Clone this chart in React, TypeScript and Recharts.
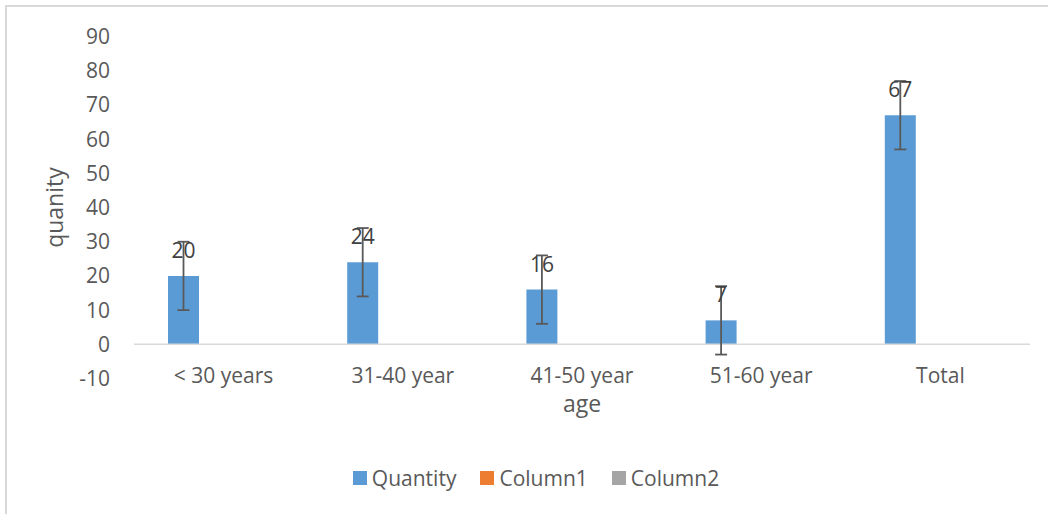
import React from 'react';
import { BarChart, Bar, XAxis, YAxis, ErrorBar, LabelList, Legend, ReferenceLine } from 'recharts';

const categories = ['< 30 years', '31-40 year', '41-50 year', '51-60 year', 'Total'];
const quantity = [20, 24, 16, 7, 67];
const quantityError = [10, 10, 10, 10, 10];
const column1: (number | null)[] = [null, null, null, null, null];
const column2: (number | null)[] = [null, null, null, null, null];
const yTicks = [-10, 0, 10, 20, 30, 40, 50, 60, 70, 80, 90];
const seriesNames = ['Quantity', 'Column1', 'Column2'];

const data = categories.map((age, i) => ({
  age,
  Quantity: quantity[i],
  err: quantityError[i],
  Column1: column1[i],
  Column2: column2[i],
}));

const TEXT = '#595959';

const LegendContent = (props: any) => {
  const items = [...(props.payload || [])].sort(
    (a: any, b: any) => seriesNames.indexOf(a.value) - seriesNames.indexOf(b.value)
  );
  return (
    <div
      style={{
        display: 'flex',
        justifyContent: 'center',
        alignItems: 'center',
        height: 30,
        paddingLeft: 24,
        boxSizing: 'border-box',
        width: '100%',
      }}
    >
      {items.map((it: any, i: number) => (
        <div key={i} style={{ display: 'flex', alignItems: 'center', marginLeft: i === 0 ? 0 : 24 }}>
          <div style={{ width: 14, height: 14, background: it.color, marginRight: 5 }} />
          <span style={{ fontSize: 21, color: TEXT, lineHeight: '30px' }}>{it.value}</span>
        </div>
      ))}
    </div>
  );
};

export default function App() {
  return (
    <div style={{ position: 'absolute', left: 0, top: 0, width: 1048, height: 514, background: '#fff', fontFamily: '"Open Sans", sans-serif', overflow: 'hidden' }}>
      <div
        style={{
          position: 'absolute',
          left: 5,
          top: 5,
          width: 1100,
          height: 600,
          borderTop: '2px solid #d9d9d9',
          borderLeft: '2px solid #d9d9d9',
        }}
      />
      <div style={{ position: 'absolute', left: 0, top: 0 }}>
        <BarChart
          width={1048}
          height={514}
          data={data}
          margin={{ top: 36.6, right: 18, left: 0, bottom: 55.5 }}
          barSize={31}
          barGap={9}
        >
          <XAxis
            dataKey="age"
            axisLine={false}
            tickLine={false}
            tickSize={0}
            tickMargin={0}
            height={50}
            interval={0}
            tick={{ fill: TEXT, fontSize: 21, dy: -10 }}
            label={{ value: 'age', position: 'center', fill: TEXT, fontSize: 23 }}
          />
          <YAxis
            domain={[-10, 90]}
            ticks={yTicks}
            interval={0}
            axisLine={false}
            tickLine={false}
            tickSize={0}
            tickMargin={24}
            width={134}
            tick={{ fill: TEXT, fontSize: 21 }}
            label={{ value: 'quanity', angle: -90, position: 'center', fill: TEXT, fontSize: 23, dx: -12 }}
          />
          <ReferenceLine y={0} stroke="#d9d9d9" strokeWidth={1.6} ifOverflow="extendDomain" />
          <Bar dataKey="Quantity" fill="#5B9BD5" isAnimationActive={false}>
            <ErrorBar dataKey="err" width={6} stroke="#595959" strokeWidth={1.8} direction="y" />
            <LabelList dataKey="Quantity" position="top" offset={18} fill="#404040" fontSize={21} />
          </Bar>
          <Bar dataKey="Column1" fill="#ED7D31" isAnimationActive={false} />
          <Bar dataKey="Column2" fill="#A5A5A5" isAnimationActive={false} />
          <Legend
            content={<LegendContent />}
            wrapperStyle={{ left: 0, top: 462.5, width: 1048, height: 30 }}
          />
        </BarChart>
      </div>
    </div>
  );
}
